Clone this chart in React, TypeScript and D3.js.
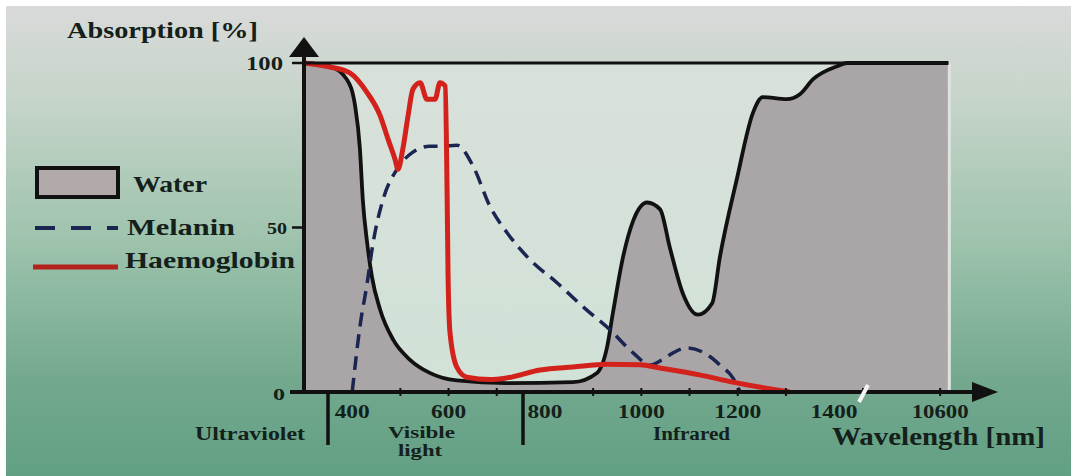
import React from "react";
import * as d3 from "d3";

// values (wavelength in nm, absorption in %)
const waterWavelengths = [300, 354, 389, 406, 416, 422, 431, 441, 458, 485, 520, 561, 617, 721, 858, 908, 929, 941, 962, 983, 1012, 1039, 1059, 1086, 1117, 1147, 1163, 1198, 1232, 1252, 1302, 1329, 1356, 1406, 1427, 1460, 10440, 10617];
const waterAbsorption = [100, 99, 95, 87, 74, 58.5, 45.4, 35, 25, 15.9, 9.8, 5.8, 3.5, 2.7, 3, 5.8, 13.7, 24, 41, 52, 57.6, 55.5, 44, 30, 23.5, 27, 41, 64.6, 85, 89.6, 89, 90.5, 95, 99, 100, 100, 100, 100];

const melaninWavelengths = [400, 416, 431, 443, 464, 493, 526, 561, 588, 617, 651, 686, 721, 769, 825, 879, 935, 983, 1018, 1043, 1066, 1095, 1143, 1163, 1190, 1205];
const melaninAbsorption = [0, 19.8, 33, 45, 58.5, 67.7, 72.9, 74.7, 74.7, 75, 68.6, 56.4, 48.5, 40.2, 33.2, 25.9, 18.9, 11.9, 8.2, 9.8, 11.9, 13.4, 10.7, 8.2, 4.3, 0];

const haemoWavelengths = [300, 354, 395, 431, 458, 474, 489, 495, 505, 516, 526, 541, 555, 572, 582, 593, 597, 599, 603, 617, 638, 686, 721, 790, 858, 929, 997, 1039, 1121, 1190, 1308];
const haemoAbsorption = [100, 98.8, 97, 91, 84, 77, 70.7, 67.7, 73.8, 84, 92, 94, 89, 89, 94, 93, 60, 35, 18, 7.6, 4.5, 3.8, 4.3, 6.7, 7.6, 8.4, 8.3, 7.3, 5.2, 3, 0];

const xTickValues = [400, 600, 800, 1000, 1200, 1400, 10600];
const xTickLabels = ["400", "600", "800", "1000", "1200", "1400", "10600"];
const yTickValues = [100, 50, 0];
const yTickLabels = ["100", "50", "0"];
const minorTicks = [500, 600, 700, 900, 1000, 1100, 1200, 1300, 1500];

const FONT = "'Liberation Serif', 'Times New Roman', serif";
const INK = "#14201a";

const toPoints = (xs: number[], ys: number[]) => xs.map((x, i) => ({ x, y: ys[i] }));

export default function App() {
  const W = 1071;
  const H = 476;

  // broken axis: linear up to ~1460 nm, then jumps to the 10 µm region
  const x = d3
    .scaleLinear()
    .domain([300, 1460, 10440, 10720])
    .range([304, 863, 863, 998]);
  const y = d3.scaleLinear().domain([0, 100]).range([392, 63]);

  const water = toPoints(waterWavelengths, waterAbsorption);
  const melanin = toPoints(melaninWavelengths, melaninAbsorption);
  const haemo = toPoints(haemoWavelengths, haemoAbsorption);

  const line = d3
    .line<{ x: number; y: number }>()
    .x((d) => x(d.x))
    .y((d) => y(d.y))
    .curve(d3.curveMonotoneX);
  const area = d3
    .area<{ x: number; y: number }>()
    .x((d) => x(d.x))
    .y0(y(0))
    .y1((d) => y(d.y))
    .curve(d3.curveMonotoneX);

  const plotLeft = x(300);
  const plotRight = x(10617);

  const txt = (
    s: string,
    px: number,
    py: number,
    size: number,
    len: number,
    anchor: "start" | "middle" | "end" = "start"
  ) => (
    <text
      key={s + px + py}
      x={px}
      y={py}
      fontSize={size}
      fontFamily={FONT}
      fontWeight="bold"
      fill={INK}
      textAnchor={anchor}
      textLength={len}
      lengthAdjust="spacingAndGlyphs"
    >
      {s}
    </text>
  );

  const xLabelWidth = (s: string) => (s.length === 3 ? 35 : s.length === 4 ? 47 : 57);

  return (
    <div style={{ position: "absolute", left: 0, top: 0 }}>
      <svg width={W} height={H} style={{ display: "block" }}>
        <defs>
          <linearGradient id="bg" x1="0" y1="0" x2="0" y2="1">
            <stop offset="0" stopColor="#d9dad9" />
            <stop offset="0.18" stopColor="#c8d5cb" />
            <stop offset="0.5" stopColor="#9ec3ad" />
            <stop offset="0.8" stopColor="#72a88e" />
            <stop offset="1" stopColor="#62a084" />
          </linearGradient>
          <linearGradient id="plotbg" x1="0" y1="0" x2="0" y2="1">
            <stop offset="0" stopColor="#d8e0da" />
            <stop offset="1" stopColor="#d1e2d7" />
          </linearGradient>
          <clipPath id="plotclip">
            <rect x={plotLeft} y={y(100)} width={plotRight - plotLeft} height={y(0) - y(100)} />
          </clipPath>
        </defs>

        <rect width={W} height={H} fill="#ffffff" />
        <rect x={6} y={6} width={W - 6} height={H - 6} fill="url(#bg)" />

        {/* plot area */}
        <rect
          x={plotLeft}
          y={y(100)}
          width={plotRight - plotLeft}
          height={y(0) - y(100)}
          fill="url(#plotbg)"
        />
        <g clipPath="url(#plotclip)">
          <path d={area(water) ?? ""} fill="#aaa6a8" />
        </g>
        <line x1={plotRight + 1} x2={plotRight + 1} y1={y(100)} y2={y(0)} stroke="#dfe3e0" strokeWidth={3} />

        <path d={line(water) ?? ""} fill="none" stroke="#111" strokeWidth={3.8} />
        <path
          d={line(melanin) ?? ""}
          fill="none"
          stroke="#1b2552"
          strokeWidth={3.5}
          strokeDasharray="14 8"
        />
        <path d={line(haemo) ?? ""} fill="none" stroke="#d3221b" strokeWidth={5} strokeLinejoin="round" />

        {/* frame top */}
        <line x1={plotLeft} x2={plotRight} y1={y(100)} y2={y(100)} stroke="#111" strokeWidth={3} />

        {/* y axis */}
        <line x1={plotLeft} x2={plotLeft} y1={y(0) + 2} y2={52} stroke="#111" strokeWidth={4} />
        <path d={`M${plotLeft},37 L${plotLeft - 15},57 L${plotLeft + 15},57 Z`} fill="#111" />
        {yTickValues.map((v) => (
          <line key={v} x1={plotLeft - 12} x2={plotLeft} y1={y(v)} y2={y(v)} stroke="#111" strokeWidth={2.5} />
        ))}
        {txt(yTickLabels[0], 283, y(100) + 7, 19, 37, "end")}
        {txt(yTickLabels[1], 287, y(50) + 6, 17, 20, "end")}
        {txt(yTickLabels[2], 285, y(0) + 8, 17, 12, "end")}

        {/* x axis */}
        <line x1={290} x2={980} y1={y(0)} y2={y(0)} stroke="#111" strokeWidth={4} />
        <path d={`M998,${y(0)} L972,${y(0) - 10} L972,${y(0) + 10} Z`} fill="#111" />
        {minorTicks.map((v) => (
          <line key={v} x1={x(v)} x2={x(v)} y1={y(0) - 4} y2={y(0) + 4} stroke="#111" strokeWidth={2} />
        ))}
        <line x1={x(10600)} x2={x(10600)} y1={y(0) - 4} y2={y(0) + 4} stroke="#111" strokeWidth={2} />
        <line x1={859} x2={868} y1={402} y2={385} stroke="#f4f4f4" strokeWidth={4} />
        {xTickValues.map((v, i) => txt(xTickLabels[i], x(v), 418, 19, xLabelWidth(xTickLabels[i]), "middle"))}

        {/* spectral regions */}
        <line x1={328} x2={328} y1={y(0)} y2={445} stroke="#111" strokeWidth={3.5} />
        <line x1={523} x2={523} y1={y(0)} y2={445} stroke="#111" strokeWidth={3.5} />
        {txt("Ultraviolet", 195, 440, 18, 110)}
        {txt("Visible", 388, 438, 16, 67)}
        {txt("light", 398, 456, 16, 44)}
        {txt("Infrared", 653, 440, 18, 77)}
        {txt("Wavelength [nm]", 832, 445, 25, 213)}

        {/* title */}
        {txt("Absorption [%]", 67, 38, 24, 191)}

        {/* legend */}
        <rect x={37} y={168} width={81} height={29} fill="#b2aaa9" stroke="#111" strokeWidth={4} />
        {txt("Water", 133, 192, 23, 74)}
        <line x1={35} x2={118} y1={228} y2={228} stroke="#1b2552" strokeWidth={4} strokeDasharray="20 16" />
        {txt("Melanin", 127, 235, 23, 108)}
        <line x1={33} x2={118} y1={267} y2={267} stroke="#b3221b" strokeWidth={5} />
        {txt("Haemoglobin", 125, 268, 23, 170)}
      </svg>
    </div>
  );
}
